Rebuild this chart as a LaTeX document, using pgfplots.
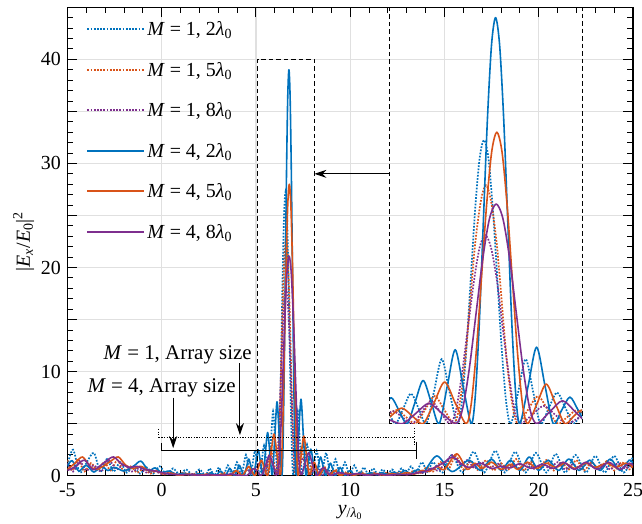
\documentclass[border=0pt]{standalone}
\usepackage{fontspec}
\setmainfont{Liberation Serif}
\usepackage{pgfplots}
\pgfplotsset{compat=1.18}
\usepackage{pgfplotstable}
\usetikzlibrary{arrows.meta,calc}
\definecolor{mblue}{rgb}{0,0.447,0.741}
\definecolor{morange}{rgb}{0.85,0.325,0.098}
\definecolor{mpurple}{rgb}{0.494,0.184,0.556}
\newcommand{\lab}{\fontsize{20}{24}\selectfont}
\pgfplotsset{
  solidc/.style={line width=1.6bp, smooth, line join=round},
  dotc/.style={line width=1.7bp, smooth, dash pattern=on 1.7bp off 1.5bp},
}

% M=1, 2 lambda0
\pgfplotstableread{
x y
-5 1.0
-4.7 2.5
-4.35 0.3
-4.0 1.2
-3.6 2.2
-3.25 0.4
-2.9 1.6
-2.55 0.4
-2.2 1.3
-1.85 0.3
-1.5 0.9
-1.15 0.2
-0.8 0.8
-0.45 0.2
-0.1 0.9
0.25 0.1
0.6 0.7
0.95 0.1
1.3 0.6
1.65 0.05
2.0 0.6
2.31 0
2.43 0.35
2.55 0.7
2.67 0.35
2.79 0
2.91 0.4
3.03 0.8
3.15 0.4
3.27 0
3.39 0.5
3.51 1.0
3.63 0.5
3.75 0
3.87 0.65
3.99 1.3
4.11 0.65
4.23 0
4.35 1.0
4.47 2.0
4.59 1.0
4.71 0
4.83 1.2
4.95 2.4
5.07 1.2
5.19 0
5.31 1.45
5.43 2.9
5.55 1.45
5.67 0
5.79 3.1
5.91 6.2
6.03 3.1
6.15 0
6.22 1.83
6.29 6.81
6.36 13.63
6.43 20.44
6.5 25.43
6.57 27.25
6.64 25.43
6.71 20.44
6.78 13.63
6.85 6.81
6.92 1.83
6.99 0
7.105 3.1
7.22 6.2
7.335 3.1
7.45 0
7.58 1.5
7.71 3.0
7.84 1.5
7.97 0
8.095 1.2
8.22 2.4
8.345 1.2
8.47 0
8.595 1.1
8.72 2.2
8.845 1.1
8.97 0
9.095 0.8
9.22 1.6
9.345 0.8
9.47 0
9.595 0.65
9.72 1.3
9.845 0.65
9.97 0
10.22 1.0
10.47 0.05
10.72 0.8
10.97 0.1
11.22 0.7
11.47 0.1
11.72 0.6
11.97 0.1
12.22 0.6
12.47 0.15
12.72 0.7
12.97 0.2
13.22 0.9
13.5 0.3
13.8 1.3
14.1 0.4
14.4 1.3
14.9 0.3
15.4 2.0
15.95 0.3
16.55 2.3
17.1 0.3
17.7 2.4
18.2 0.3
18.75 2.3
19.3 0.3
19.85 2.2
20.4 0.3
20.9 2.1
21.4 0.3
21.95 2.0
22.5 0.3
23.0 1.9
23.5 0.3
24.0 1.9
24.5 0.3
25 1.8
}\tabBa

% M=1, 5 lambda0
\pgfplotstableread{
x y
-5 1.5
-4.75 0.5
-4.45 1.6
-4.1 0.4
-3.75 1.2
-3.4 0.5
-3.05 1.3
-2.7 0.5
-2.35 1.5
-2.0 0.4
-1.65 0.9
-1.3 0.3
-0.95 0.7
-0.6 0.2
-0.25 0.5
0.1 0.1
0.45 0.35
0.8 0.05
1.15 0.3
1.5 0.03
1.85 0.25
2.2 0.02
2.55 0.25
2.9 0.02
3.25 0.3
3.7 0
3.85 0.25
4.0 0.5
4.15 0.25
4.3 0
4.45 0.45
4.6 0.9
4.75 0.45
4.9 0
5.05 0.65
5.2 1.3
5.35 0.65
5.5 0
5.65 1.33
5.8 2.65
5.95 1.33
6.1 0
6.18 1.53
6.27 5.73
6.35 11.45
6.43 17.18
6.52 21.37
6.6 22.9
6.68 21.37
6.77 17.18
6.85 11.45
6.93 5.73
7.02 1.53
7.1 0
7.255 1.33
7.41 2.65
7.565 1.33
7.72 0
7.87 0.65
8.02 1.3
8.17 0.65
8.32 0
8.47 0.45
8.62 0.9
8.77 0.45
8.92 0
9.22 0.6
9.52 0.02
9.85 0.4
10.2 0.05
10.55 0.35
10.9 0.05
11.25 0.3
11.6 0.05
11.95 0.3
12.3 0.05
12.65 0.35
13.0 0.1
13.35 0.45
13.7 0.2
14.05 0.8
14.4 0.4
14.8 1.3
15.2 0.6
15.6 1.9
16.0 0.6
16.4 1.4
16.8 0.5
17.2 1.5
17.6 0.5
18.0 1.2
18.4 0.6
18.8 1.6
19.2 0.5
19.6 1.3
20.0 0.6
20.4 1.5
20.8 0.5
21.2 1.3
21.6 0.6
22.0 1.5
22.4 0.5
22.8 1.3
23.2 0.6
23.6 1.4
24.0 0.5
24.4 1.3
24.8 0.6
25 1.0
}\tabRa

% M=1, 8 lambda0
\pgfplotstableread{
x y
-5 1.2
-4.7 0.4
-4.35 1.4
-4.0 0.5
-3.6 1.0
-3.2 0.4
-2.8 1.5
-2.4 0.6
-2.0 1.1
-1.6 0.4
-1.2 0.7
-0.8 0.3
-0.4 0.5
0 0.15
0.5 0.3
1.0 0.05
1.5 0.2
2.0 0.03
2.5 0.15
3.0 0.03
3.5 0.2
3.9 0.05
4.25 0
4.4 0.3
4.55 0.6
4.7 0.3
4.85 0
5.0 0.6
5.15 1.2
5.3 0.6
5.45 0
5.6 1.1
5.745 2.2
5.89 1.1
6.04 0
6.13 1.21
6.22 4.53
6.315 9.05
6.41 13.58
6.5 16.89
6.59 18.1
6.68 16.89
6.775 13.58
6.865 9.05
6.96 4.53
7.05 1.21
7.14 0
7.32 0.85
7.5 1.7
7.68 0.85
7.86 0
8.02 0.45
8.18 0.9
8.34 0.45
8.5 0
8.8 0.5
9.1 0.02
9.5 0.25
9.9 0.05
10.3 0.2
10.7 0.05
11.1 0.2
11.5 0.05
11.9 0.2
12.3 0.05
12.7 0.25
13.1 0.1
13.5 0.35
13.9 0.25
14.3 0.7
14.7 0.5
15.1 1.4
15.45 2.0
15.85 1.0
16.2 1.5
16.6 0.7
17.0 1.3
17.4 0.7
17.8 1.2
18.2 0.6
18.6 1.1
19.0 0.7
19.4 1.2
19.8 0.6
20.2 1.1
20.6 0.7
21.0 1.3
21.4 0.6
21.8 1.1
22.2 0.7
22.6 1.2
23.0 0.7
23.4 1.1
23.8 0.6
24.2 1.2
24.6 0.7
25 1.1
}\tabPa

% M=4, 2 lambda0
\pgfplotstableread{
x y
-5 0.9
-4.75 1.45
-4.4 0.45
-4.0 1.0
-3.6 0.35
-3.2 0.9
-2.85 0.5
-2.5 0.8
-2.0 0.45
-1.5 0.9
-1.1 1.4
-0.7 0.5
-0.35 0.75
0 0.3
0.4 0.45
0.8 0.1
1.2 0.25
1.6 0.05
2.0 0.2
2.37 0
2.495 0.15
2.62 0.3
2.745 0.15
2.87 0
2.995 0.23
3.12 0.45
3.245 0.23
3.37 0
3.495 0.35
3.62 0.7
3.745 0.35
3.87 0
3.995 0.5
4.12 1.0
4.245 0.5
4.37 0
4.495 0.8
4.62 1.6
4.745 0.8
4.87 0
4.995 1.25
5.12 2.5
5.245 1.25
5.37 0
5.495 2.08
5.62 4.15
5.745 2.08
5.87 0
5.995 3.55
6.12 7.1
6.245 3.55
6.37 0
6.433 2.61
6.497 9.75
6.56 19.5
6.623 29.25
6.687 36.39
6.75 39
6.813 36.39
6.877 29.25
6.94 19.5
7.003 9.75
7.067 2.61
7.13 0
7.26 3.68
7.39 7.35
7.52 3.68
7.65 0
7.78 1.28
7.91 2.55
8.04 1.28
8.17 0
8.3 0.9
8.43 1.8
8.56 0.9
8.69 0
8.82 0.6
8.95 1.2
9.08 0.6
9.21 0
9.34 0.4
9.47 0.8
9.6 0.4
9.73 0
9.99 0.5
10.25 0
10.5 0.3
10.8 0.1
11.1 0.3
11.4 0.1
11.7 0.3
12.0 0.1
12.3 0.35
12.6 0.15
12.9 0.5
13.2 0.2
13.6 0.6
13.9 0.35
14.6 1.9
15.4 0.4
16.3 1.5
16.9 0.5
17.5 1.6
18.0 0.5
18.5 1.5
19.0 0.5
19.5 1.8
20.0 0.5
20.5 1.5
21.05 0.5
21.6 1.6
22.15 0.5
22.7 1.5
23.25 0.5
23.8 1.6
24.3 0.5
24.8 1.5
25 1.2
}\tabBb

% M=4, 5 lambda0
\pgfplotstableread{
x y
-5 0.6
-4.6 1.2
-4.2 1.8
-3.8 0.9
-3.5 0.6
-3.1 0.9
-2.7 1.4
-2.3 1.8
-1.9 1.0
-1.5 0.7
-1.1 0.9
-0.7 0.5
-0.3 0.45
0.1 0.2
0.5 0.25
0.9 0.05
1.4 0.15
1.9 0.03
2.4 0.12
2.9 0.02
3.3 0.15
3.61 0
3.78 0.25
3.945 0.5
4.11 0.25
4.28 0
4.45 0.45
4.615 0.9
4.78 0.45
4.95 0
5.12 0.75
5.285 1.5
5.45 0.75
5.62 0
5.79 2.0
5.955 4.0
6.12 2.0
6.29 0
6.37 1.88
6.45 7.0
6.53 14.0
6.61 21.0
6.69 26.13
6.77 28
6.85 26.13
6.93 21.0
7.01 14.0
7.09 7.0
7.17 1.88
7.25 0
7.395 1.9
7.54 3.8
7.685 1.9
7.83 0
7.96 0.65
8.09 1.3
8.22 0.65
8.35 0
8.49 0.4
8.625 0.8
8.76 0.4
8.9 0
9.175 0.5
9.45 0.02
9.8 0.25
10.2 0.05
10.6 0.2
11.0 0.05
11.4 0.2
11.8 0.05
12.2 0.2
12.6 0.1
13.0 0.3
13.4 0.15
13.8 0.5
14.2 0.4
14.6 0.9
15.0 0.6
15.65 2.1
16.2 0.6
16.6 1.2
17.0 0.7
17.5 1.3
18.0 0.6
18.5 1.1
18.9 0.6
19.4 1.3
19.9 0.7
20.4 1.2
20.9 0.8
21.4 1.2
21.9 0.7
22.5 1.2
23.0 0.8
23.6 1.2
24.1 0.8
24.6 1.2
25 0.9
}\tabRb

% M=4, 8 lambda0
\pgfplotstableread{
x y
-5 0.5
-4.55 0.9
-4.1 1.5
-3.65 0.6
-3.3 0.9
-2.95 1.4
-2.55 1.8
-2.1 1.1
-1.7 0.8
-1.3 0.9
-0.9 0.6
-0.5 0.5
-0.1 0.35
0.4 0.15
0.9 0.1
1.5 0.1
2.1 0.05
2.7 0.08
3.3 0.05
3.7 0.15
4.1 0.05
4.5 0
4.7 0.35
4.9 0.7
5.1 0.35
5.3 0
5.505 0.98
5.71 1.95
5.915 0.98
6.13 0
6.235 1.41
6.34 5.28
6.445 10.55
6.55 15.83
6.655 19.69
6.76 21.1
6.865 19.69
6.97 15.83
7.075 10.55
7.18 5.28
7.285 1.41
7.39 0
7.59 1.1
7.795 2.2
8.0 1.1
8.2 0
8.39 0.4
8.575 0.8
8.76 0.4
8.95 0.02
9.4 0.3
9.9 0.1
10.4 0.2
10.9 0.05
11.5 0.15
12.0 0.05
12.5 0.12
13.0 0.1
13.5 0.25
14.0 0.45
14.5 0.8
15.0 1.3
15.45 1.8
16.0 1.0
16.4 0.8
16.9 1.2
17.5 0.7
18.0 0.9
18.5 0.75
19.0 1.15
19.6 0.7
20.2 1.1
20.8 0.7
21.3 1.3
21.9 0.6
22.5 1.3
23.1 0.6
23.7 1.3
24.3 0.6
24.8 1.2
25 1.0
}\tabPb

\begin{document}
\begin{tikzpicture}
\begin{axis}[
    name=main,
    scale only axis,
    width=565.6bp, height=468.4bp,
    xmin=-5, xmax=25, ymin=0, ymax=45,
    xtick={-5,0,...,25},
    minor xtick={-5,-4,...,25},
    ytick={0,10,20,30,40},
    extra y ticks={5,15,25,35},
    extra y tick labels={},
    extra y tick style={grid=major},
    minor ytick={0,1,...,45},
    grid=major,
    grid style={draw=black!12, line width=1.2bp},
    tick align=inside,
    major tick length=10bp,
    minor tick length=6bp,
    every tick/.style={black, line width=0.9bp},
    axis line style={line width=1.1bp},
    tick label style={font=\lab},
    xticklabel style={yshift=-4bp},
    yticklabel style={xshift=-3bp},
    label style={font=\lab},
    /pgf/number format/assume math mode=true,
    xlabel={\textit{y}\textsubscript{/\textit{λ}\textsubscript{0}}},
    xlabel style={yshift=-2bp},
    ylabel={|\textit{E}\textsubscript{\textit{x}}/\textit{E}\textsubscript{0}|\textsuperscript{2}},
    legend cell align=left,
    legend style={draw=none, fill=none, at={(0,1)}, anchor=north west,
        xshift=16bp, yshift=-10bp, font=\lab, row sep=21bp},
    legend image code/.code={\draw[#1] (0bp,0bp) -- (57bp,0bp);},
]
\addplot[mblue, dotc] table {\tabBa};
\addlegendentry{\textit{M} = 1, 2\textit{λ}\textsubscript{0}}
\addplot[morange, dotc] table {\tabRa};
\addlegendentry{\textit{M} = 1, 5\textit{λ}\textsubscript{0}}
\addplot[mpurple, dotc] table {\tabPa};
\addlegendentry{\textit{M} = 1, 8\textit{λ}\textsubscript{0}}
\addplot[mblue, solidc] table {\tabBb};
\addlegendentry{\textit{M} = 4, 2\textit{λ}\textsubscript{0}}
\addplot[morange, solidc] table {\tabRb};
\addlegendentry{\textit{M} = 4, 5\textit{λ}\textsubscript{0}}
\addplot[mpurple, solidc] table {\tabPb};
\addlegendentry{\textit{M} = 4, 8\textit{λ}\textsubscript{0}}

% zoom box and arrow
\draw[line width=1.1bp, dash pattern=on 4.5bp off 3bp] (axis cs:5.1,0) rectangle (axis cs:8.1,40);
\draw[line width=1.1bp, -{Stealth[length=12bp,width=8bp]}] (axis cs:12.1,29) -- (axis cs:8.1,29);

% array size brackets
\draw[line width=1bp, dash pattern=on 1.2bp off 1.5bp]
  (axis cs:-0.15,4.5) -- (axis cs:-0.15,3.7) -- (axis cs:13.4,3.7);
\draw[line width=1bp, dash pattern=on 1.2bp off 1.5bp]
  (axis cs:13.4,4.6) -- (axis cs:13.4,2.95);
\draw[line width=1.1bp] (axis cs:0,3.15) -- (axis cs:0,2.4) -- (axis cs:13.5,2.4);
\draw[line width=1.1bp] (axis cs:13.5,3.27) -- (axis cs:13.5,1.6);
\draw[line width=1.1bp, -{Stealth[length=12bp,width=8bp]}] (axis cs:4.15,10.8) -- (axis cs:4.15,3.9);
\draw[line width=1.1bp, -{Stealth[length=12bp,width=8bp]}] (axis cs:0.61,7.5) -- (axis cs:0.61,2.65);
\node[font=\fontsize{21}{25}\selectfont] at (axis cs:0.85,11.6) {\textit{M} = 1, Array size};
\node[font=\fontsize{21}{25}\selectfont] at (axis cs:0.0,8.4) {\textit{M} = 4, Array size};

\coordinate (ins) at (axis cs:12.1,5);
\end{axis}

\begin{axis}[
    at={(ins)}, anchor=south west,
    scale only axis,
    width=192.3bp, height=416.4bp,
    xmin=5.1, xmax=8.1, ymin=0, ymax=40,
    ticks=none,
    axis line style={line width=1.1bp, dash pattern=on 4.5bp off 3bp},
]
\addplot[mblue, dotc] table {\tabBa};
\addplot[morange, dotc] table {\tabRa};
\addplot[mpurple, dotc] table {\tabPa};
\addplot[mblue, solidc] table {\tabBb};
\addplot[morange, solidc] table {\tabRb};
\addplot[mpurple, solidc] table {\tabPb};
\end{axis}

\pgfresetboundingbox
\path[use as bounding box] ($(main.south west)+(-67.4bp,-48.3bp)$) rectangle ++(642bp,524bp);
\end{tikzpicture}
\end{document}
